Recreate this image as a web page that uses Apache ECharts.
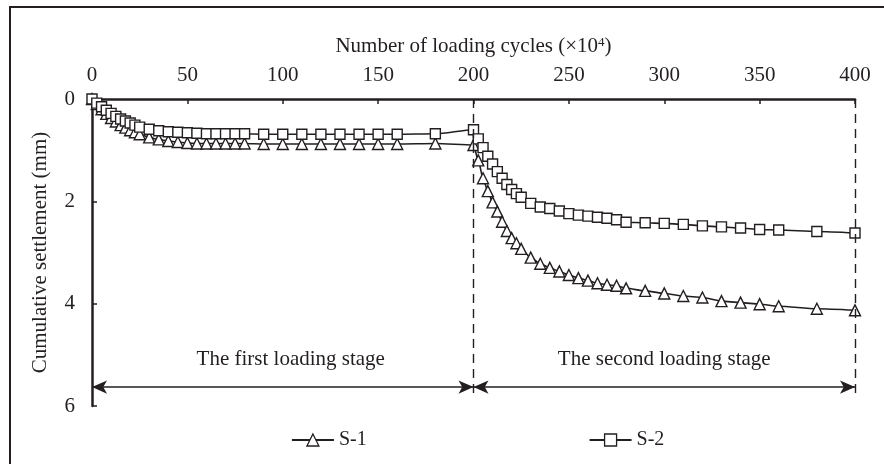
<!DOCTYPE html>
<html>
<head>
<meta charset="utf-8">
<script src="https://cdn.jsdelivr.net/npm/echarts@6/dist/echarts.min.js"></script>
<style>
  html, body { margin: 0; padding: 0; background: #fff; }
  #chart { width: 884px; height: 464px; }
</style>
</head>
<body>
<div id="chart"></div>
<script>
// Number of loading cycles (x10^4) at which settlement was recorded
const cycles = [
  0, 2.5, 5, 7.5, 10, 12.5, 15, 17.5, 20, 22.5, 25,
  30, 35, 40, 45, 50, 55, 60, 65, 70, 75, 80,
  90, 100, 110, 120, 130, 140, 150, 160, 180, 200,
  202.5, 205, 207.5, 210, 212.5, 215, 217.5, 220, 222.5, 225,
  230, 235, 240, 245, 250, 255, 260, 265, 270, 275, 280,
  290, 300, 310, 320, 330, 340, 350, 360, 380, 400
];

// Cumulative settlement (mm)
const s1 = [
  0, 0.10, 0.20, 0.29, 0.37, 0.44, 0.51, 0.56, 0.61, 0.65, 0.69,
  0.75, 0.79, 0.82, 0.84, 0.86, 0.87, 0.87, 0.87, 0.87, 0.87, 0.87,
  0.88, 0.88, 0.88, 0.88, 0.88, 0.88, 0.88, 0.88, 0.87, 0.90,
  1.20, 1.55, 1.80, 2.02, 2.20, 2.40, 2.58, 2.72, 2.82, 2.93,
  3.10, 3.22, 3.30, 3.37, 3.44, 3.50, 3.55, 3.60, 3.63, 3.65, 3.70,
  3.75, 3.80, 3.85, 3.88, 3.95, 3.98, 4.01, 4.05, 4.10, 4.13
];

const s2 = [
  0, 0.08, 0.15, 0.22, 0.28, 0.34, 0.39, 0.43, 0.47, 0.51, 0.55,
  0.59, 0.62, 0.64, 0.65, 0.66, 0.67, 0.68, 0.68, 0.68, 0.68, 0.68,
  0.69, 0.69, 0.69, 0.69, 0.69, 0.69, 0.69, 0.69, 0.68, 0.60,
  0.78, 0.95, 1.12, 1.27, 1.42, 1.55, 1.67, 1.77, 1.85, 1.92,
  2.04, 2.11, 2.14, 2.19, 2.24, 2.27, 2.29, 2.31, 2.33, 2.36, 2.41,
  2.42, 2.43, 2.45, 2.48, 2.50, 2.52, 2.55, 2.56, 2.59, 2.62
];

const seriesNames = ['S-1', 'S-2'];

// Loading stages: start cycle, end cycle, label
const stageStart = [0, 200];
const stageEnd = [200, 400];
const stageNames = ['The first loading stage', 'The second loading stage'];

const INK = '#231f20';
const FONT = '"Liberation Serif", "DejaVu Serif", serif';
const FS = 21;
const arrowDepth = 5.63;    // settlement level of the stage arrows
const boundaryDepth = 5.82; // lower end of the stage boundaries

const pair = (ys) => cycles.map((c, i) => [c, ys[i]]);

const chart = echarts.init(document.getElementById('chart'), null, { renderer: 'canvas' });

chart.setOption({
  animation: false,
  backgroundColor: '#fff',
  textStyle: { fontFamily: FONT, color: INK },
  graphic: [{
    type: 'rect',
    shape: { x: 10, y: 7, width: 900, height: 500 },
    style: { fill: 'none', stroke: INK, lineWidth: 2 },
    silent: true,
    z: -1
  }],
  grid: { left: 92, top: 99, right: 29, bottom: 58, containLabel: false },
  legend: {
    data: seriesNames,
    top: 425,
    left: 286,
    itemGap: 222,
    itemWidth: 42,
    itemHeight: 15,
    itemTextGap: 3,
    textStyle: { fontFamily: FONT, fontSize: 20, color: INK },
    itemStyle: { color: '#fff', borderColor: INK, borderWidth: 1.3 },
    lineStyle: { color: INK, width: 1.8 }
  },
  xAxis: {
    type: 'value',
    position: 'top',
    min: 0,
    max: 400,
    interval: 50,
    name: 'Number of loading cycles (×10{sup|4})',
    nameLocation: 'middle',
    nameGap: 42,
    nameTextStyle: {
      fontFamily: FONT, fontSize: FS, color: INK,
      rich: { sup: { fontFamily: FONT, fontSize: 13, color: INK, verticalAlign: 'top', padding: [0, 0, 8, 0] } }
    },
    axisLine: { show: true, lineStyle: { color: INK, width: 2.5 } },
    axisTick: { show: true, inside: true, length: 5, lineStyle: { color: INK, width: 1.5 } },
    axisLabel: { fontFamily: FONT, fontSize: FS, color: INK, margin: 13 },
    splitLine: { show: false }
  },
  yAxis: {
    type: 'value',
    inverse: true,
    min: 0,
    max: 6,
    interval: 2,
    name: 'Cumulative settlement (mm)',
    nameLocation: 'middle',
    nameGap: 41,
    nameRotate: 90,
    nameTextStyle: { fontFamily: FONT, fontSize: FS, color: INK },
    axisLine: { show: true, lineStyle: { color: INK, width: 2.5 } },
    axisTick: { show: true, inside: true, length: 5, lineStyle: { color: INK, width: 1.5 } },
    axisLabel: { fontFamily: FONT, fontSize: FS, color: INK, margin: 17 },
    splitLine: { show: false }
  },
  series: [
    {
      name: seriesNames[0],
      type: 'line',
      data: pair(s1),
      smooth: 0.25,
      smoothMonotone: 'x',
      symbol: 'triangle',
      symbolSize: 11,
      showAllSymbol: true,
      lineStyle: { color: INK, width: 1.6 },
      itemStyle: { color: '#fff', borderColor: INK, borderWidth: 1.4 },
      markLine: {
        silent: true,
        animation: false,
        data: [
          [
            { coord: [stageEnd[0], 0], symbol: 'none', lineStyle: { type: [9, 6], width: 1.4, color: INK } },
            { coord: [stageEnd[0], boundaryDepth], symbol: 'none' }
          ],
          [
            { coord: [stageEnd[1], 0], symbol: 'none', lineStyle: { type: [9, 6], width: 1.4, color: INK } },
            { coord: [stageEnd[1], boundaryDepth], symbol: 'none' }
          ],
          [
            {
              coord: [stageStart[0], arrowDepth], name: stageNames[0],
              lineStyle: { type: 'solid', width: 1.5, color: INK },
              label: { offset: [8, 0] }
            },
            { coord: [stageEnd[0], arrowDepth] }
          ],
          [
            { coord: [stageStart[1], arrowDepth], name: stageNames[1], lineStyle: { type: 'solid', width: 1.5, color: INK } },
            { coord: [stageEnd[1], arrowDepth] }
          ]
        ],
        symbol: ['arrow', 'arrow'],
        symbolSize: [10, 15],
        itemStyle: { color: INK },
        label: {
          show: true,
          position: 'insideMiddleTop',
          distance: 17,
          formatter: (p) => p.name || '',
          fontFamily: FONT,
          fontSize: FS,
          color: INK
        }
      }
    },
    {
      name: seriesNames[1],
      type: 'line',
      data: pair(s2),
      smooth: 0.25,
      smoothMonotone: 'x',
      symbol: 'rect',
      symbolSize: 10,
      showAllSymbol: true,
      lineStyle: { color: INK, width: 1.6 },
      itemStyle: { color: '#fff', borderColor: INK, borderWidth: 1.4 }
    }
  ]
});
</script>
</body>
</html>
